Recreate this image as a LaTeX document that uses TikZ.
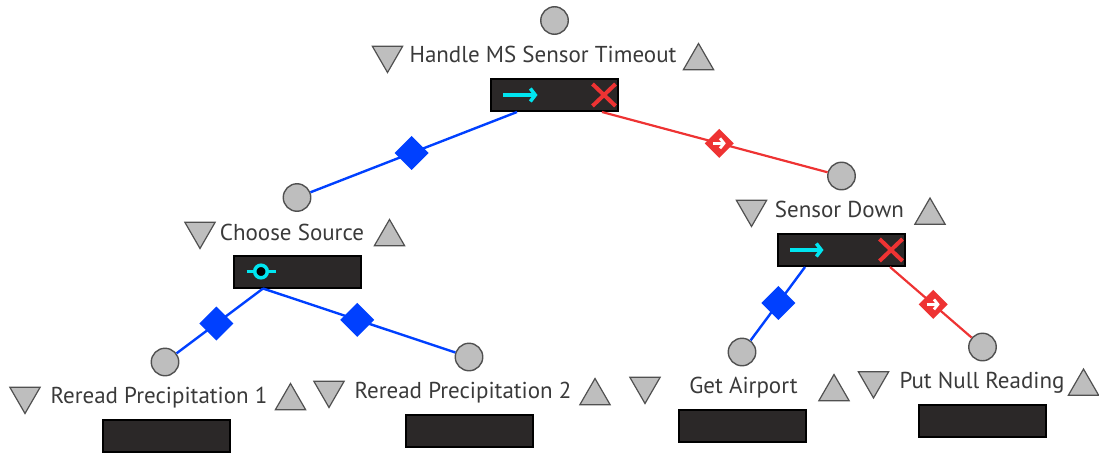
\documentclass[tikz,border=0pt]{standalone}
\usepackage{fontspec}
\setmainfont{PT Sans}
\usetikzlibrary{shapes.geometric,arrows.meta}
\definecolor{ink}{HTML}{3A3A3A}
\definecolor{shade}{HTML}{BEBEBE}
\definecolor{rim}{HTML}{505050}
\definecolor{panel}{HTML}{2B2828}
\definecolor{seqblue}{HTML}{0040FF}
\definecolor{failred}{HTML}{EE3333}
\definecolor{runcyan}{HTML}{00E5F0}
\begin{document}
\begin{tikzpicture}[x=1pt,y=-1pt,
  every node/.style={inner sep=0pt},
  ball/.style={circle,draw=rim,fill=shade,line width=1.4pt,minimum size=27.5pt},
  tridown/.style={regular polygon,regular polygon sides=3,shape border rotate=180,
    draw=rim,fill=shade,line width=1.2pt,minimum size=35pt},
  triup/.style={regular polygon,regular polygon sides=3,
    draw=rim,fill=shade,line width=1.2pt,minimum size=35pt},
  tasktext/.style={anchor=base,text=ink,font=\fontsize{23}{26}\selectfont},
  panelbox/.style={rectangle,draw=black,fill=panel,line width=2pt,
    minimum width=127pt,minimum height=32pt},
  bluelink/.style={draw=seqblue,line width=2.4pt},
  redlink/.style={draw=failred,line width=2.2pt},
  bluegem/.style={regular polygon,regular polygon sides=4,shape border rotate=45,
    fill=seqblue,minimum size=34pt},
  redgem/.style={regular polygon,regular polygon sides=4,shape border rotate=45,
    fill=failred,minimum size=29pt},
  runarrow/.style={runcyan,line width=3.5pt,-{Straight Barb[length=5pt,width=13pt]}},
  failx/.style={failred,line width=4pt},
  whitearrow/.style={white,line width=2.8pt,-{Straight Barb[length=4pt,width=10pt]}}
]
\useasboundingbox (0,0) rectangle (1099,452);

% ---------- Handle MS Sensor Timeout ----------
\node[ball] (root) at (554.5,20.5) {};
\node[tridown] (rootdn) at (387.5,55) {};
\node[tasktext] (roottx) at (543,63) {Handle MS Sensor Timeout};
\node[triup] (rootup) at (698.5,61) {};
\node[panelbox] (rootbox) at (554.5,95) {};
\draw[runarrow] ([xshift=-51.5pt]rootbox.center) -- ([xshift=-17pt]rootbox.center);
\draw[failx] ([xshift=38pt,yshift=11pt]rootbox.center) -- ([xshift=61pt,yshift=-11pt]rootbox.center)
             ([xshift=38pt,yshift=-11pt]rootbox.center) -- ([xshift=61pt,yshift=11pt]rootbox.center);

% ---------- Choose Source ----------
\node[ball] (cs) at (297,197.5) {};
\node[tridown] (csdn) at (200,231) {};
\node[tasktext] (cstx) at (292,240) {Choose Source};
\node[triup] (csup) at (389.5,237) {};
\node[panelbox] (csbox) at (297.5,271.5) {};
\draw[runcyan,line width=3.5pt] ([xshift=-51pt]csbox.center) -- ([xshift=-22pt]csbox.center);
\draw[runcyan,line width=3.5pt,fill=black] ([xshift=-36.5pt]csbox.center) circle[radius=6.3pt];

% ---------- Sensor Down ----------
\node[ball] (sd) at (841.5,176) {};
\node[tridown] (sddn) at (751.5,209) {};
\node[tasktext] (sdtx) at (839.5,217) {Sensor Down};
\node[triup] (sdup) at (930,215.5) {};
\node[panelbox] (sdbox) at (841.5,250) {};
\draw[runarrow] ([xshift=-51.5pt]sdbox.center) -- ([xshift=-18pt]sdbox.center);
\draw[failx] ([xshift=38pt,yshift=11pt]sdbox.center) -- ([xshift=61pt,yshift=-11pt]sdbox.center)
             ([xshift=38pt,yshift=-11pt]sdbox.center) -- ([xshift=61pt,yshift=11pt]sdbox.center);

% ---------- Leaves ----------
\node[ball] (rp1) at (165,362) {};
\node[tridown] (rp1dn) at (25,396) {};
\node[tasktext] (rp1tx) at (159,403) {Reread Precipitation 1};
\node[triup] (rp1up) at (290.5,401) {};
\node[panelbox] (rp1box) at (166,435.5) {};

\node[ball] (rp2) at (469,357) {};
\node[tridown] (rp2dn) at (329,390) {};
\node[tasktext] (rp2tx) at (463,398) {Reread Precipitation 2};
\node[triup] (rp2up) at (595,396) {};
\node[panelbox] (rp2box) at (469.5,430.5) {};

\node[ball] (ga) at (742,352) {};
\node[tridown] (gadn) at (645,386) {};
\node[tasktext] (gatx) at (743.5,393) {Get Airport};
\node[triup] (gaup) at (834,392) {};
\node[panelbox] (gabox) at (742.5,426) {};

\node[ball] (pn) at (982.5,347) {};
\node[tridown] (pndn) at (873.5,380.5) {};
\node[tasktext] (pntx) at (982,388) {Put Null Reading};
\node[triup] (pnup) at (1083.5,386.5) {};
\node[panelbox] (pnbox) at (982.5,421) {};

% ---------- Connectors ----------
\path[bluelink] ([xshift=-37.5pt]rootbox.south) -- (cs) node[bluegem,pos=0.51] (g1) {};
\path[redlink] ([xshift=47.5pt]rootbox.south) -- (sd) node[redgem,pos=0.52] (g2) {};
\draw[whitearrow] ([xshift=-6.5pt]g2.center) -- ([xshift=6.5pt]g2.center);

\path[bluelink] ([xshift=-34.5pt]csbox.south) -- (rp1) node[bluegem,pos=0.54] (g3) {};
\path[bluelink] ([xshift=-34.5pt]csbox.south) -- (rp2) node[bluegem,pos=0.49] (g4) {};

\path[bluelink] ([xshift=-36.5pt]sdbox.south) -- (ga) node[bluegem,pos=0.49] (g5) {};
\path[redlink] ([xshift=48.5pt]sdbox.south) -- (pn) node[redgem,pos=0.53] (g6) {};
\draw[whitearrow] ([xshift=-6.5pt]g6.center) -- ([xshift=6.5pt]g6.center);
\end{tikzpicture}
\end{document}
